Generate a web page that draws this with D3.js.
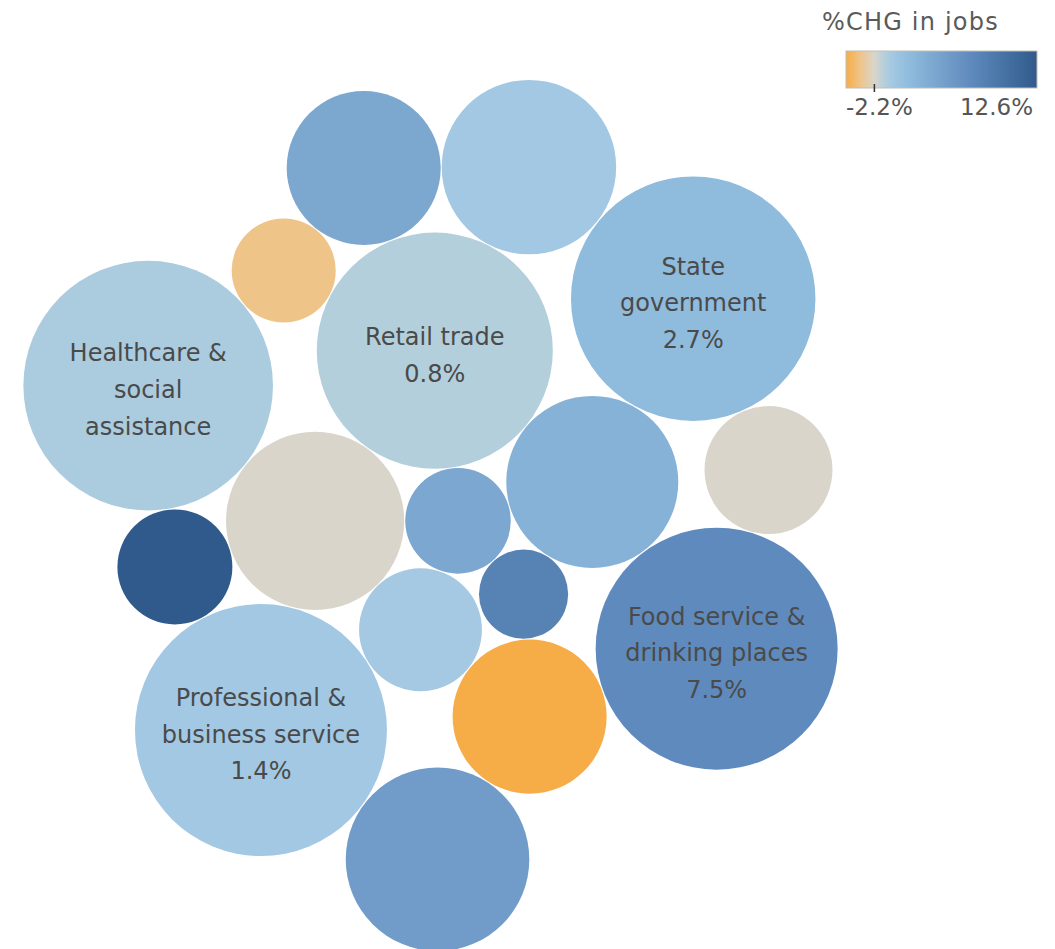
<!DOCTYPE html>
<html>
<head>
<meta charset="utf-8">
<script src="https://cdn.jsdelivr.net/npm/d3@7"></script>
<style>
  html, body { margin: 0; padding: 0; background: #fff; }
  svg { display: block; font-family: "DejaVu Sans", sans-serif; }
</style>
</head>
<body>
<svg id="chart" width="1055" height="949"></svg>
<script>
// Industries, listed in the order the bubbles are packed
const industries = [
  "Transportation & warehousing",
  "Wholesale trade",
  "Local government",
  "Retail trade",
  "Financial activities",
  "Arts, entertainment & recreation",
  "Manufacturing",
  "Food service & drinking places",
  "Professional & business service",
  "Accommodation",
  "Construction",
  "Healthcare & social assistance",
  "Information",
  "Other services",
  "Educational services",
  "State government",
  "Federal government"
];

// Jobs in thousands (bubble area)
const jobs = [27.9, 37.8, 79.5, 139.5, 74.1, 19.9, 59.4, 146.6, 159.0, 84.4, 33.1, 156.0, 27.1, 59.4, 76.2, 149.6, 41.0];

// Percent change in jobs (bubble colour)
const pctChange = [4.7, 1.3, 0.0, 0.8, 3.6, 8.4, -2.2, 7.5, 1.4, 5.7, 12.6, 1.1, -1.1, 4.6, 1.4, 2.7, 0.0];

// Packing sequence: every bubble after the second one is set down against two bubbles
// that are already in place, on the left-hand side of the first -> second direction.
const restsOn = new Map([
  ["Local government",                 ["Wholesale trade", "Transportation & warehousing"]],
  ["Retail trade",                     ["Local government", "Transportation & warehousing"]],
  ["Financial activities",             ["Retail trade", "Transportation & warehousing"]],
  ["Arts, entertainment & recreation", ["Financial activities", "Transportation & warehousing"]],
  ["Manufacturing",                    ["Arts, entertainment & recreation", "Wholesale trade"]],
  ["Food service & drinking places",   ["Financial activities", "Manufacturing"]],
  ["Professional & business service",  ["Wholesale trade", "Local government"]],
  ["Accommodation",                    ["Manufacturing", "Professional & business service"]],
  ["Construction",                     ["Professional & business service", "Local government"]],
  ["Healthcare & social assistance",   ["Construction", "Local government"]],
  ["Information",                      ["Healthcare & social assistance", "Retail trade"]],
  ["Other services",                   ["Information", "Retail trade"]],
  ["Educational services",             ["Other services", "Retail trade"]],
  ["State government",                 ["Educational services", "Financial activities"]],
  ["Federal government",               ["State government", "Food service & drinking places"]]
]);

// Wrapped label text for the bubbles large enough to carry a label
const labelLines = new Map([
  ["Retail trade", ["Retail trade"]],
  ["State government", ["State", "government"]],
  ["Food service & drinking places", ["Food service &", "drinking places"]],
  ["Professional & business service", ["Professional &", "business service"]],
  ["Healthcare & social assistance", ["Healthcare &", "social", "assistance"]]
]);

const legendTitle = "%CHG in jobs";

// ---- layout settings ----
const width = 1055, height = 949;
const pane = { width: 861, height: 1031 };
const maxRadius = 126;
const gap = 1.0;
const startAngle = 109;      // degrees, from the first bubble towards the second
const minLabelRadius = 100;
const lineHeight = 36.7;
const maxLabelLines = 3;

const svg = d3.select("#chart");
svg.append("rect").attr("width", width).attr("height", height).attr("fill", "#fff");

const radius = d3.scaleSqrt().domain([0, d3.max(jobs)]).range([0, maxRadius]);

// Orange-blue diverging colour, centred on zero, using the full range on both sides
const [vMin, vMax] = d3.extent(pctChange);
const color = d3.scaleLinear()
  .domain([vMin, vMin * 0.5, 0, vMax * 0.064, vMax * 0.111, vMax * 0.214, vMax * 0.595, vMax])
  .range(["#f6ad48", "#efc489", "#d9d5ca", "#b3cfdc", "#a2c8e3", "#8fbbdd", "#5f8abd", "#2f5a8b"])
  .interpolate(d3.interpolateRgb)
  .clamp(true);

const nodes = industries.map((name, i) => ({ name, jobs: jobs[i], pct: pctChange[i], r: radius(jobs[i]) }));
const byName = new Map(nodes.map(d => [d.name, d]));

// Put circle c so that it touches both a and b
function settle(a, b, c) {
  const dx = b.x - a.x, dy = b.y - a.y, d = Math.hypot(dx, dy);
  const ra = a.r + c.r + gap, rb = b.r + c.r + gap;
  const along = (d * d + ra * ra - rb * rb) / (2 * d);
  const off = Math.sqrt(Math.max(0, ra * ra - along * along));
  const ux = dx / d, uy = dy / d;
  c.x = a.x + along * ux + off * uy;
  c.y = a.y + along * uy - off * ux;
}

nodes[0].x = 0; nodes[0].y = 0;
const t0 = startAngle * Math.PI / 180;
const d01 = nodes[0].r + nodes[1].r + gap;
nodes[1].x = d01 * Math.cos(t0);
nodes[1].y = d01 * Math.sin(t0);
nodes.slice(2).forEach(c => {
  const [a, b] = restsOn.get(c.name);
  settle(byName.get(a), byName.get(b), c);
});

// Centre the pack inside the pane
const bx0 = d3.min(nodes, d => d.x - d.r), bx1 = d3.max(nodes, d => d.x + d.r);
const by0 = d3.min(nodes, d => d.y - d.r), by1 = d3.max(nodes, d => d.y + d.r);
const tx = pane.width / 2 - (bx0 + bx1) / 2;
const ty = pane.height / 2 - (by0 + by1) / 2;

const pack = svg.append("g").attr("transform", `translate(${tx},${ty})`);

pack.selectAll("circle")
  .data(nodes)
  .join("circle")
  .attr("cx", d => d.x)
  .attr("cy", d => d.y)
  .attr("r", d => d.r)
  .attr("fill", d => color(d.pct));

const fmtPct = v => `${v.toFixed(1)}%`;

const labelled = nodes.filter(d => d.r >= minLabelRadius && labelLines.has(d.name));
const labels = pack.selectAll("g.label")
  .data(labelled)
  .join("g")
  .attr("class", "label")
  .attr("transform", d => `translate(${d.x},${d.y})`);

labels.each(function(d) {
  const lines = labelLines.get(d.name).concat(fmtPct(d.pct)).slice(0, maxLabelLines);
  d3.select(this).selectAll("text")
    .data(lines)
    .join("text")
    .attr("text-anchor", "middle")
    .attr("x", 0)
    .attr("y", (s, i) => 12.6 + (i - (lines.length - 1) / 2) * lineHeight)
    .attr("fill", "#4a4a4a")
    .attr("font-size", 24)
    .text(s => s);
});

// ---- colour legend ----
const legend = svg.append("g");
const lx0 = 846, lx1 = 1037, ly0 = 51, ly1 = 88;
const lscale = d3.scaleLinear().domain([vMin, vMax]).range([lx0, lx1]);

const grad = svg.append("defs").append("linearGradient")
  .attr("id", "legend-grad")
  .attr("x1", "0%").attr("x2", "100%").attr("y1", "0%").attr("y2", "0%");
d3.range(0, 1.0001, 0.01).forEach(f => {
  grad.append("stop")
    .attr("offset", `${f * 100}%`)
    .attr("stop-color", color(vMin + f * (vMax - vMin)));
});

legend.append("text")
  .attr("x", 822).attr("y", 30)
  .attr("font-size", 24)
  .attr("letter-spacing", 1.2)
  .attr("fill", "#5a5a5a")
  .text(legendTitle);

legend.append("rect")
  .attr("x", lx0).attr("y", ly0)
  .attr("width", lx1 - lx0).attr("height", ly1 - ly0)
  .attr("fill", "url(#legend-grad)")
  .attr("stroke", "#c2bdb2")
  .attr("stroke-width", 1);

legend.append("line")
  .attr("x1", lscale(0)).attr("x2", lscale(0))
  .attr("y1", ly1 - 4).attr("y2", ly1 + 4)
  .attr("stroke", "#333").attr("stroke-width", 1.5);

legend.append("text")
  .attr("x", lx0).attr("y", 115)
  .attr("font-size", 23).attr("fill", "#555")
  .text(fmtPct(vMin));

legend.append("text")
  .attr("x", lx1 - 4).attr("y", 115)
  .attr("text-anchor", "end")
  .attr("font-size", 23).attr("fill", "#555")
  .text(fmtPct(vMax));
</script>
</body>
</html>
